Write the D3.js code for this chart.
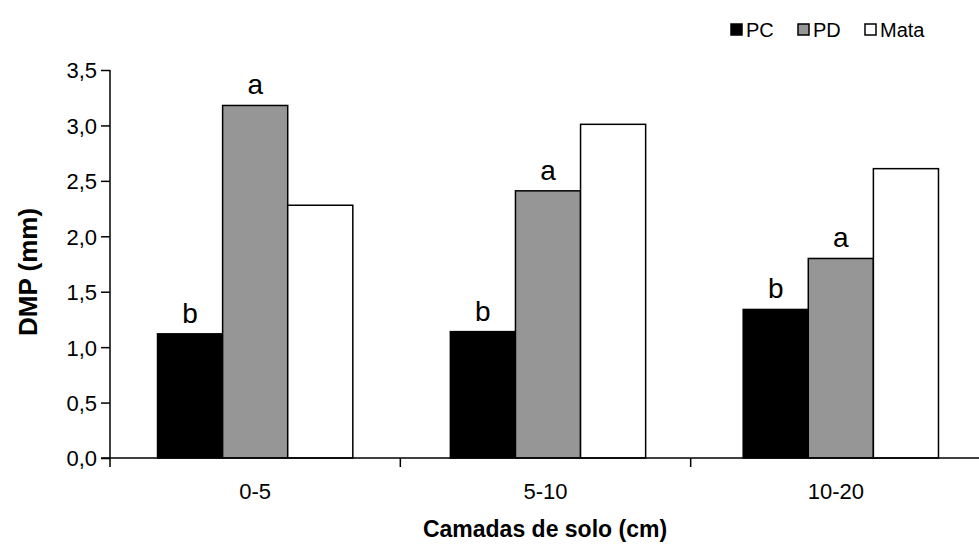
<!DOCTYPE html>
<html>
<head>
<meta charset="utf-8">
<script src="https://cdn.jsdelivr.net/npm/d3@7"></script>
<style>
  body { margin: 0; background: #fff; }
  text { font-family: "Liberation Sans", Arial, sans-serif; fill: #000; }
</style>
</head>
<body>
<svg id="chart" width="979" height="544"></svg>
<script>
// camadas de solo (cm) and the three systems
const camadas = ["0-5", "5-10", "10-20"];
const sistemas = ["PC", "PD", "Mata"];
const cores = ["#000000", "#969696", "#ffffff"];

// DMP (mm)
const pc = [1.12, 1.14, 1.34];
const pd = [3.18, 2.41, 1.80];
const mata = [2.28, 3.01, 2.61];

// letters above PC and PD bars
const letrasPC = ["b", "b", "b"];
const letrasPD = ["a", "a", "a"];

const yTicks = [0, 0.5, 1, 1.5, 2, 2.5, 3, 3.5];

const svg = d3.select("#chart");
const margin = { left: 110, right: -2, top: 70, bottom: 86 };
const width = 979, height = 544;

const x = d3.scaleBand()
  .domain(camadas)
  .range([margin.left, width - margin.right])
  .padding(0);

const xSub = d3.scaleBand()
  .domain(sistemas)
  .range([0, x.bandwidth()])
  .paddingInner(0)
  .paddingOuter(0.73);

const y = d3.scaleLinear()
  .domain([0, 3.5])
  .range([height - margin.bottom, margin.top]);

const valores = [pc, pd, mata];
const linhas = [];
camadas.forEach((c, i) => {
  sistemas.forEach((s, j) => {
    linhas.push({ camada: c, sistema: s, valor: valores[j][i], cor: cores[j], i });
  });
});

// bars (last group sits a few px further right in the original)
svg.append("g")
  .selectAll("rect")
  .data(linhas)
  .enter()
  .append("rect")
  .attr("x", d => x(d.camada) + xSub(d.sistema) + d.i * 2.5)
  .attr("y", d => y(d.valor))
  .attr("width", xSub.bandwidth())
  .attr("height", d => y(0) - y(d.valor))
  .attr("fill", d => d.cor)
  .attr("stroke", "#000")
  .attr("stroke-width", 1.5);

// letters
const letras = [];
camadas.forEach((c, i) => {
  letras.push({ camada: c, sistema: "PC", valor: pc[i], txt: letrasPC[i], i });
  letras.push({ camada: c, sistema: "PD", valor: pd[i], txt: letrasPD[i], i });
});
svg.append("g")
  .selectAll("text")
  .data(letras)
  .enter()
  .append("text")
  .attr("x", d => x(d.camada) + xSub(d.sistema) + xSub.bandwidth() / 2 + d.i * 2.5)
  .attr("y", d => y(d.valor) - 11)
  .attr("text-anchor", "middle")
  .style("font-size", "28px")
  .text(d => d.txt);

// y axis
const yAxis = svg.append("g")
  .attr("transform", `translate(${margin.left},0)`)
  .call(d3.axisLeft(y).tickValues(yTicks).tickSize(9).tickPadding(4)
    .tickFormat(d => d3.format(".1f")(d).replace(".", ",")));
yAxis.select(".domain").attr("stroke", "#000").attr("stroke-width", 1.5)
  .attr("d", `M-0,${y(3.5)}V${y(0)}`);
yAxis.selectAll(".tick line").attr("stroke", "#000").attr("stroke-width", 1.5);
yAxis.selectAll(".tick text").style("font-size", "22px").attr("dy", "0.36em");

// x axis
const xAxis = svg.append("g")
  .attr("transform", `translate(0,${y(0)})`);
xAxis.append("line")
  .attr("x1", margin.left - 9).attr("x2", width)
  .attr("stroke", "#000").attr("stroke-width", 1.5);
const bordas = camadas.map(c => x(c));
xAxis.selectAll(".tk")
  .data(bordas)
  .enter()
  .append("line")
  .attr("x1", d => d).attr("x2", d => d)
  .attr("y1", 0).attr("y2", 9)
  .attr("stroke", "#000").attr("stroke-width", 1.5);
xAxis.selectAll(".lbl")
  .data(camadas)
  .enter()
  .append("text")
  .attr("x", d => x(d) + x.bandwidth() / 2)
  .attr("y", 41)
  .attr("text-anchor", "middle")
  .style("font-size", "22px")
  .text(d => d);

// axis titles
svg.append("text")
  .attr("x", 545)
  .attr("y", 537)
  .attr("text-anchor", "middle")
  .style("font-size", "23px")
  .style("font-weight", "bold")
  .text("Camadas de solo (cm)");

svg.append("text")
  .attr("transform", `translate(37,${(y(0) + y(3.5)) / 2 + 8}) rotate(-90)`)
  .attr("text-anchor", "middle")
  .style("font-size", "26px")
  .style("font-weight", "bold")
  .text("DMP (mm)");

// legend
const leg = svg.append("g")
  .selectAll("g")
  .data(sistemas)
  .enter()
  .append("g")
  .attr("transform", (d, i) => `translate(${731 + i * 67},24)`);
leg.append("rect")
  .attr("width", 11).attr("height", 11)
  .attr("fill", (d, i) => cores[i])
  .attr("stroke", "#000").attr("stroke-width", 1.5);
leg.append("text")
  .attr("x", 15).attr("y", 12.5)
  .style("font-size", "20px")
  .text(d => d);
</script>
</body>
</html>
